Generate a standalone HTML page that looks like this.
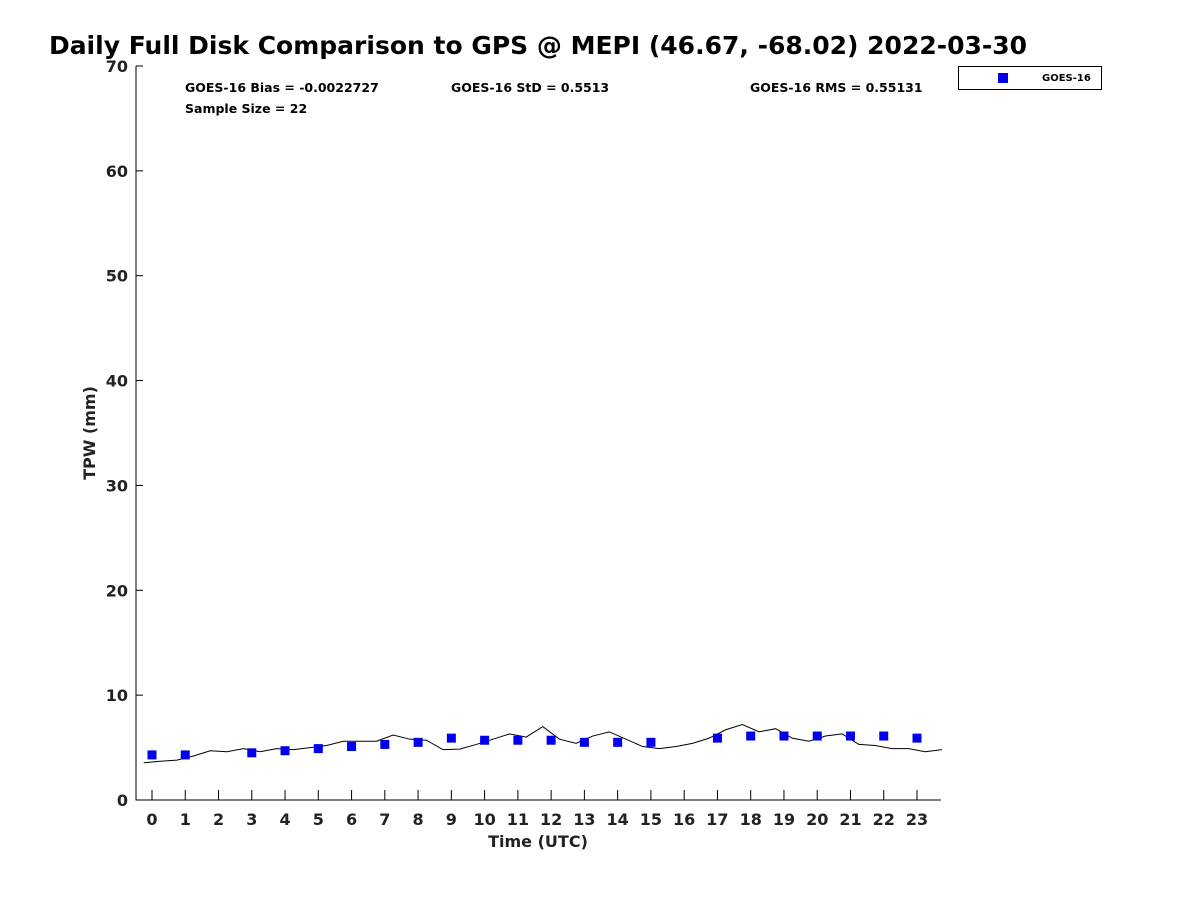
<!DOCTYPE html>
<html><head><meta charset="utf-8"><style>
body{margin:0;background:#fff;font-family:"Liberation Sans","DejaVu Sans",sans-serif;}
</style></head><body>
<svg width="1200" height="900" viewBox="0 0 1200 900" style="display:block">
<text x="538" y="54" text-anchor="middle" font-size="25" font-weight="bold" fill="#000" font-family="DejaVu Sans, sans-serif">Daily Full Disk Comparison to GPS @ MEPI (46.67, -68.02) 2022-03-30</text>
<g id="axes"></g>
<text x="185" y="92" font-size="12.5" font-weight="bold" font-family="DejaVu Sans, sans-serif">GOES-16 Bias = -0.0022727</text>
<text x="451" y="92" font-size="12.5" font-weight="bold" font-family="DejaVu Sans, sans-serif">GOES-16 StD = 0.5513</text>
<text x="750" y="92" font-size="12.5" font-weight="bold" font-family="DejaVu Sans, sans-serif">GOES-16 RMS = 0.55131</text>
<text x="185" y="113" font-size="12.5" font-weight="bold" font-family="DejaVu Sans, sans-serif">Sample Size = 22</text>
<g>
<rect x="958.5" y="66.5" width="143" height="23" fill="#fff" stroke="#000"/>
<rect x="998" y="73" width="10" height="10" fill="#0000ee"/>
<text x="1042" y="81" font-size="10" font-weight="bold" font-family="DejaVu Sans, sans-serif">GOES-16</text>
</g>
<text x="95" y="433" transform="rotate(-90 95 433)" text-anchor="middle" font-size="16" font-weight="bold" fill="#222" font-family="DejaVu Sans, sans-serif">TPW (mm)</text>
<text x="538" y="847" text-anchor="middle" font-size="16" font-weight="bold" fill="#222" font-family="DejaVu Sans, sans-serif">Time (UTC)</text>
</svg>
<script>
const satHours=[0,1,3,4,5,6,7,8,9,10,11,12,13,14,15,17,18,19,20,21,22,23];
const satValues=[4.3,4.3,4.5,4.7,4.9,5.1,5.3,5.5,5.9,5.7,5.7,5.7,5.5,5.5,5.5,5.9,6.1,6.1,6.1,6.1,6.1,5.9];
const gpsTimes=[-0.25,0.25,0.75,1.25,1.75,2.25,2.75,3.25,3.75,4.25,4.75,5.25,5.75,6.25,6.75,7.25,7.75,8.25,8.75,9.25,9.75,10.25,10.75,11.25,11.75,12.25,12.75,13.25,13.75,14.25,14.75,15.25,15.75,16.25,16.75,17.25,17.75,18.25,18.75,19.25,19.75,20.25,20.75,21.25,21.75,22.25,22.75,23.25,23.75];
const gpsValues=[3.55,3.7,3.8,4.2,4.7,4.6,4.9,4.6,4.9,4.8,5.0,5.2,5.6,5.6,5.6,6.2,5.8,5.7,4.8,4.85,5.3,5.8,6.3,6.0,7.0,5.8,5.4,6.1,6.5,5.8,5.1,4.9,5.1,5.4,5.9,6.7,7.2,6.5,6.8,5.9,5.6,6.1,6.3,5.3,5.2,4.9,4.9,4.6,4.8];
const xTicks=[0,1,2,3,4,5,6,7,8,9,10,11,12,13,14,15,16,17,18,19,20,21,22,23];
const yTicks=[0,10,20,30,40,50,60,70];
const NS="http://www.w3.org/2000/svg";
const X0=136,X1=941,Y0=800,Y1=66;
const xs=t=>152+t*(917-152)/23;
const ys=v=>Y0-v*(Y0-Y1)/70;
const g=document.getElementById('axes');
function mk(tag,attrs){const e=document.createElementNS(NS,tag);for(const k in attrs)e.setAttribute(k,attrs[k]);g.appendChild(e);return e;}
let e=mk('path',{d:`M${X0} ${Y1}V${Y0}H${X1}`,fill:'none',stroke:'#000','stroke-width':1});


yTicks.forEach(v=>{
 const l=mk('line',{x1:X0,x2:X0+7,y1:ys(v),y2:ys(v),stroke:'#000'});
 
 
 const t=mk('text',{x:X0-8,y:ys(v)+6,'text-anchor':'end','font-size':16,'font-weight':'bold',fill:'#222','font-family':'DejaVu Sans, sans-serif'});
 t.textContent=v;
 
 
});
xTicks.forEach(h=>{
 const l=mk('line',{x1:xs(h),x2:xs(h),y1:Y0,y2:Y0-10,stroke:'#000'});
 
 
 const t=mk('text',{x:xs(h),y:Y0+25,'text-anchor':'middle','font-size':16,'font-weight':'bold',fill:'#222','font-family':'DejaVu Sans, sans-serif'});
 t.textContent=h;
 
 
});
const pl=mk('polyline',{points:gpsTimes.map((t,i)=>xs(t)+','+ys(gpsValues[i])).join(' '),fill:'none',stroke:'#000','stroke-width':1});


satHours.forEach((h,i)=>{
 const r=mk('rect',{x:xs(h)-4.5,y:ys(satValues[i])-4.5,width:9,height:9,fill:'#0000ee'});
 
 
});
</script>
</body></html>
